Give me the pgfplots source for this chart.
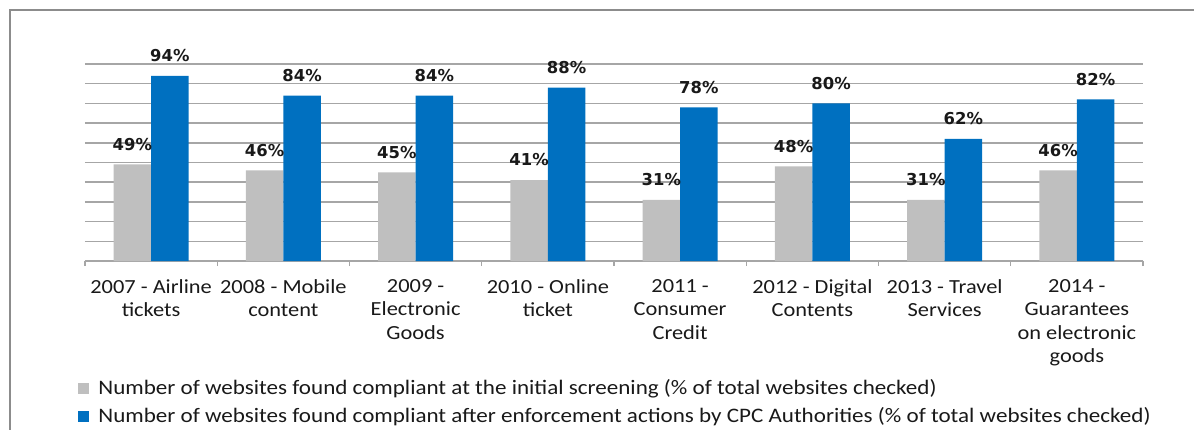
\documentclass[border=0pt]{standalone}
\usepackage{pgfplots}
\pgfplotsset{compat=1.18}
\usepackage{fontspec}
\setmainfont{Carlito}[FakeStretch=1.12]
\newfontfamily\dejavu{DejaVu Sans}
\definecolor{cblue}{HTML}{0070C0}
\definecolor{cgray}{HTML}{BFBFBF}
\definecolor{gridc}{HTML}{A6A6A6}
\definecolor{framec}{HTML}{8C8C8C}
\begin{document}
\begin{tikzpicture}
\path[use as bounding box] (0,0) rectangle (597pt,214.5pt);
\draw[framec, line width=1pt] (5pt,-2pt) -- (5pt,209.5pt) -- (600pt,209.5pt);
\begin{axis}[
  at={(42.5pt,84pt)}, anchor=south west,
  scale only axis, width=529pt, height=98.5pt,
  ybar=0pt, bar width=18.75pt,
  xmin=-0.5, xmax=7.5, ymin=0, ymax=100,
  axis x line*=bottom, axis y line*=left,
  x axis line style={gridc, line width=0.75pt, -},
  y axis line style={draw=none},
  ytick={10,20,...,100}, yticklabels={},
  ytick style={draw=none},
  ymajorgrids, grid style={gridc, line width=0.75pt},
  xtick={0,...,7},
  xticklabels={{2007 - Airline\\tickets},{2008 - Mobile\\content},{2009 -\\Electronic\\Goods},{2010 - Online\\ticket},{2011 -\\Consumer\\Credit},{2012 - Digital\\Contents},{2013 - Travel\\Services},{2014 -\\Guarantees\\on electronic\\goods}},
  xticklabel style={align=center, anchor=north, inner sep=0pt, yshift=-9pt, font=\fontsize{10}{11.7}\selectfont, text=black!90},
  major tick length=0pt,
  minor xtick={-0.5,0.5,...,7.5},
  minor tick length=2.5pt, tick align=outside,
  minor tick style={gridc, line width=0.6pt},
  nodes near coords={\pgfmathprintnumber[assume math mode=true]{\pgfplotspointmeta}\%},
  every node near coord/.append style={font=\dejavu\fontsize{8.2}{9}\selectfont\bfseries, inner sep=0pt, yshift=6.8pt, text=black!90},
  legend style={at={(-0.0071,-0.58)}, anchor=north west, draw=none, fill=none, inner sep=0pt,
     font=\fontsize{10.3}{12}\selectfont, text=black!90, row sep=1.5pt, column sep=3pt,
     nodes={inner sep=1.75pt}},
  legend cell align=left,
  legend image code/.code={\fill[#1] (0pt,-2.75pt) rectangle (5.5pt,2.75pt);},
]
\addplot[fill=cgray, draw=none] coordinates {(0,49) (1,46) (2,45) (3,41) (4,31) (5,48) (6,31) (7,46)};
\addplot[fill=cblue, draw=none] coordinates {(0,94) (1,84) (2,84) (3,88) (4,78) (5,80) (6,62) (7,82)};
\legend{Number of websites found compliant at the initial screening (\% of total websites checked),
Number of websites found compliant after enforcement actions by CPC Authorities (\% of total websites checked)}
\end{axis}
\end{tikzpicture}
\end{document}
